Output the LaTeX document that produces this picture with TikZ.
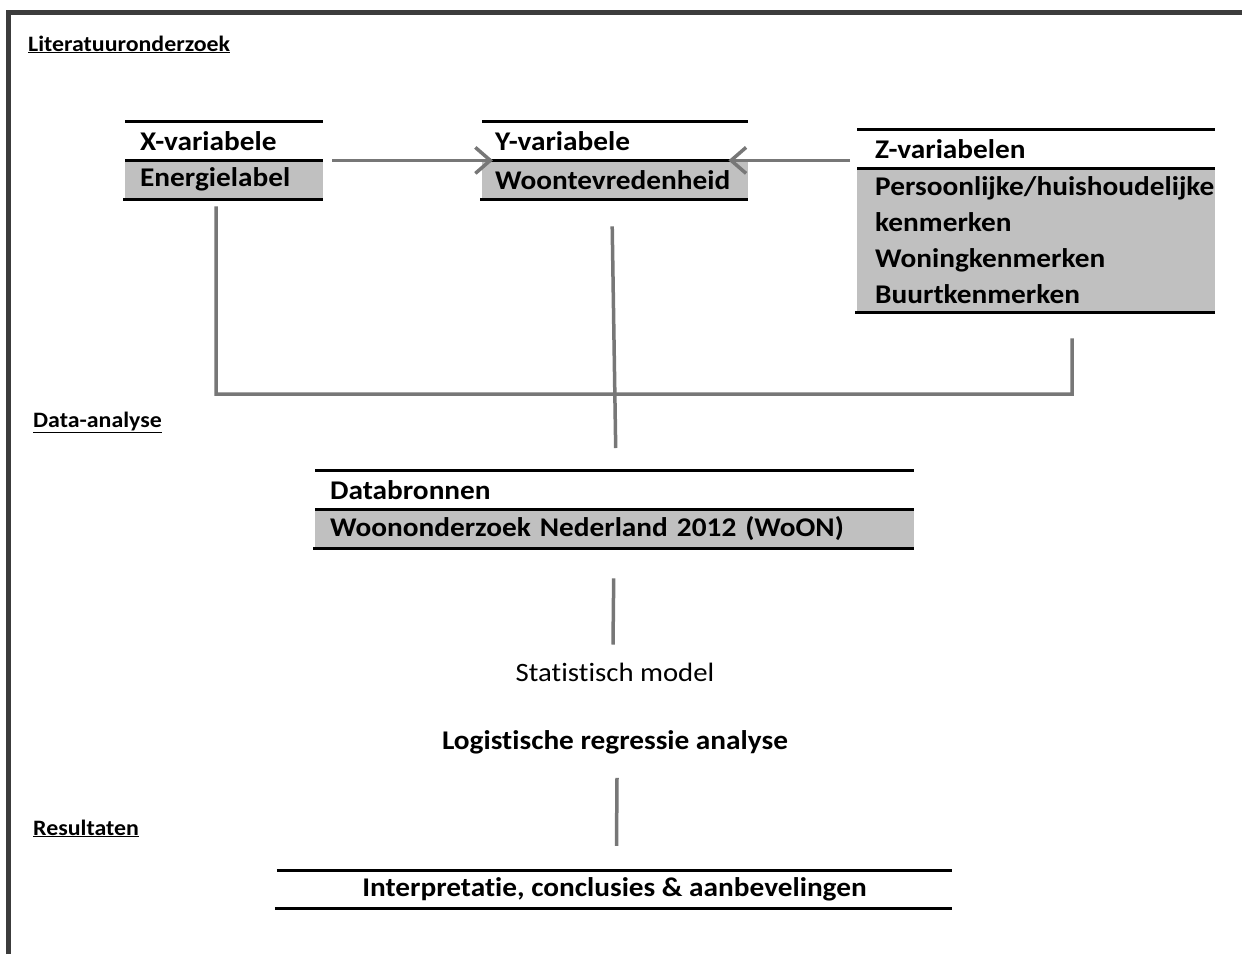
\documentclass[tikz,border=0pt]{standalone}
\usepackage{fontspec}
\setmainfont{Carlito}[FakeStretch=1.085, Ligatures=NoCommon]
\usetikzlibrary{arrows.meta}
\definecolor{framec}{HTML}{3C3C3C}
\definecolor{connc}{HTML}{777777}
\definecolor{fillg}{HTML}{C0C0C0}
\tikzset{
 txt/.style={font=\fontsize{27}{36}\selectfont\bfseries, inner sep=0pt},
 sect/.style={font=\fontsize{22}{24}\selectfont\bfseries, inner sep=0pt, anchor=base west},
 cell/.style={font=\fontsize{27}{36}\selectfont\bfseries, anchor=north west, inner xsep=15pt, inner ysep=0pt, align=left, minimum height=39pt},
 greycell/.style={cell, fill=fillg},
 rule/.style={line width=3pt, black},
 conn/.style={line width=3.5pt, draw=connc},
 arr/.style={conn, -{Straight Barb[length=15pt,width=26pt,line width=3.5pt]}},
}
\begin{document}
\begin{tikzpicture}[x=1pt,y=-1pt]
\useasboundingbox (0,0) rectangle (1242,954);
% frame
\draw[line width=5pt, framec] (8.5,954) -- (8.5,12.5) -- (1242,12.5);
% section labels
\node[sect] (lit) at (28,51) {\underline{Literatuuronderzoek}};
\node[sect] (dat) at (33,427) {\underline{Data-analyse}};
\node[sect] (resl) at (33,835) {\underline{Resultaten}};
% X box
\node[cell, text width=168pt] (xh) at (125,121) {X-variabele};
\node[greycell, text width=168pt] (xb) at (125,160) {Energielabel};
\draw[rule] (xh.north west) -- (xh.north east);
\draw[rule] (xh.south west) -- (xh.south east);
\draw[rule] ([xshift=-2pt]xb.south west) -- (xb.south east);
% Y box
\node[cell, inner xsep=13pt, text width=240pt] (yh) at (482,121) {Y-variabele};
\node[greycell, inner xsep=13pt, text width=240pt] (yb) at (482,160) {Woontevredenheid};
\draw[rule] (yh.north west) -- (yh.north east);
\draw[rule] (yh.south west) -- (yh.south east);
\draw[rule] ([xshift=-2pt]yb.south west) -- (yb.south east);
% Z box
\node[cell, inner xsep=18pt, text width=322pt] (zh) at (857,129) {Z-variabelen};
\node[greycell, inner xsep=18pt, text width=322pt, minimum height=144pt] (zb) at (857,168)
 {\mbox{Persoonlijke/huishoudelijke}\\\mbox{kenmerken}\\\mbox{Woningkenmerken}\\\mbox{Buurtkenmerken}};
\draw[rule] (zh.north west) -- (zh.north east);
\draw[rule] (zh.south west) -- (zh.south east);
\draw[rule] ([xshift=-2pt]zb.south west) -- (zb.south east);
% Databronnen box
\node[cell, text width=569pt] (dh) at (315,470) {Databronnen};
\node[greycell, text width=569pt] (db) at (315,509) {Woononderzoek Nederland 2012 (WoON)};
\draw[rule] (dh.north west) -- (dh.north east);
\draw[rule] (dh.south west) -- (dh.south east);
\draw[rule] ([xshift=-2pt]db.south west) -- (db.south east);
% model texts
\node[font=\fontsize{26.5}{28}\selectfont, inner sep=0pt] (stat) at (615,672) {Statistisch model};
\node[txt] (logr) at (615,742) {Logistische regressie analyse};
% results box
\node[txt, minimum width=675pt, minimum height=37pt] (res) at (614.5,889.5) {Interpretatie, conclusies \& aanbevelingen};
\draw[rule] (res.north west) -- (res.north east);
\draw[rule] ([xshift=-2pt]res.south west) -- (res.south east);
% connectors
\draw[arr] ([xshift=9pt]xh.south east) -- ([xshift=11pt]yh.south west);
\draw[arr] ([xshift=-7pt,yshift=8pt]zh.south west) -- ([xshift=-20pt]yh.south east);
\coordinate (xl) at ([xshift=-8pt,yshift=-7pt]xb.south);
\coordinate (zl) at ([xshift=36pt,yshift=-26pt]zb.south);
\coordinate (j) at (1072,394);
\draw[conn] (xl) |- (j) -- (zl);
\draw[conn] ([xshift=-3pt,yshift=-27pt]yb.south) -- ([xshift=1pt,yshift=22pt]dh.north);
\draw[conn] ([xshift=-1pt,yshift=-30pt]db.south) -- ([xshift=-2pt,yshift=18pt]stat.north);
\draw[conn] ([xshift=2pt,yshift=-24pt]logr.south) -- ([xshift=2pt,yshift=25pt]res.north);
\end{tikzpicture}
\end{document}
